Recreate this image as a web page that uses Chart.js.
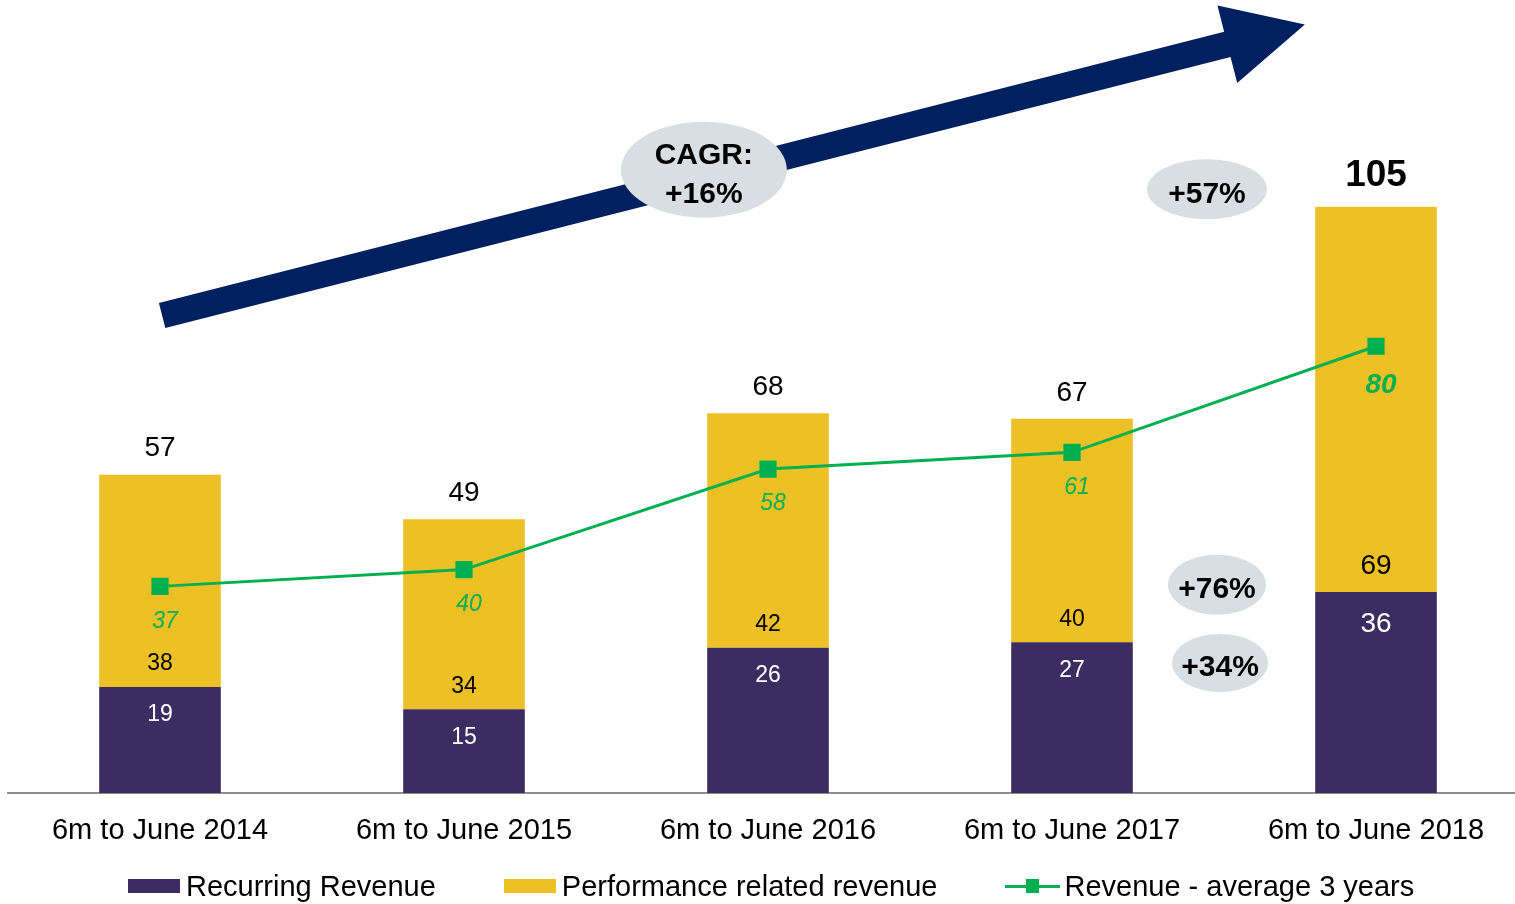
<!DOCTYPE html>
<html>
<head>
<meta charset="utf-8">
<script src="https://cdn.jsdelivr.net/npm/chart.js@4.4.1/dist/chart.umd.min.js"></script>
<style>
  html, body { margin: 0; padding: 0; overflow: hidden; background: #fff; }
  #wrap { position: relative; width: 1515px; height: 904px; overflow: hidden; }
  #legend { position: absolute; left: 128px; top: 868px; height: 36px; display: flex; align-items: center;
            font: 29px "Liberation Sans", Arial, sans-serif; color: #000; white-space: nowrap; }
  .item { display: flex; align-items: center; margin-right: 68px; }
  .box { width: 52px; height: 14px; margin-right: 6px; }
  .lineKey { position: relative; width: 55px; height: 3px; margin-right: 4px; }
  .lineKey span { position: absolute; left: 21px; top: -6px; width: 13px; height: 14px; }
</style>
</head>
<body>
<div id="wrap">
  <canvas id="grafica" width="1528" height="904"></canvas>
  <div id="legend"></div>
</div>
<script>
const FONT = '"Liberation Sans", Arial, sans-serif';

const periods = ['6m to June 2014', '6m to June 2015', '6m to June 2016', '6m to June 2017', '6m to June 2018'];
const recurring = [19, 15, 26, 27, 36];
const performance = [38, 34, 42, 40, 69];
const totals = [57, 49, 68, 67, 105];
const average3y = [37, 40, 58, 61, 80];
const seriesNames = ['Recurring Revenue', 'Performance related revenue', 'Revenue - average 3 years'];
const bubbleTexts = [['CAGR:', '+16%'], ['+57%'], ['+76%'], ['+34%']];

const colores = { recurring: '#3b2d62', performance: '#edc125', average: '#00b050', arrow: '#00205f', bubble: '#d9dee3' };

// annotation anchors, in data units (x = category index, y = value)
const arrowFrom = { x: 0.007, y: 85.5 };
const arrowTo = { x: 3.766, y: 137.6 };
const bubbleAnchors = [
  { x: 1.789, y: 111.6, rx: 83, ry: 48 },
  { x: 3.444, y: 108.1, rx: 60, ry: 30 },
  { x: 3.477, y: 37.3, rx: 49, ry: 30 },
  { x: 3.487, y: 23.3, rx: 48, ry: 29 }
];

const annotaciones = {
  id: 'annotaciones',
  afterDatasetsDraw(chart) {
    const ctx = chart.ctx;
    const xs = chart.scales.x, ys = chart.scales.y;
    const px = (v) => xs.getPixelForValue(0) + v * (xs.getPixelForValue(1) - xs.getPixelForValue(0));
    ctx.save();
    // arrow
    const sx = px(arrowFrom.x), sy = ys.getPixelForValue(arrowFrom.y);
    const tx = px(arrowTo.x), ty = ys.getPixelForValue(arrowTo.y);
    const ang = Math.atan2(ty - sy, tx - sx);
    const len = Math.hypot(tx - sx, ty - sy);
    ctx.translate(sx, sy);
    ctx.rotate(ang);
    ctx.fillStyle = colores.arrow;
    ctx.beginPath();
    ctx.moveTo(0, -13);
    ctx.lineTo(len - 80, -13);
    ctx.lineTo(len - 80, -40);
    ctx.lineTo(len, 0);
    ctx.lineTo(len - 80, 40);
    ctx.lineTo(len - 80, 13);
    ctx.lineTo(0, 13);
    ctx.closePath();
    ctx.fill();
    ctx.setTransform(1, 0, 0, 1, 0, 0);
    // bubbles
    ctx.textAlign = 'center';
    ctx.textBaseline = 'middle';
    ctx.font = 'bold 30px ' + FONT;
    bubbleAnchors.forEach((b, i) => {
      const cx = px(b.x), cy = ys.getPixelForValue(b.y);
      ctx.fillStyle = colores.bubble;
      ctx.beginPath();
      ctx.ellipse(cx, cy, b.rx, b.ry, 0, 0, Math.PI * 2);
      ctx.fill();
      ctx.fillStyle = '#000';
      const lines = bubbleTexts[i];
      const start = cy + 5 - (lines.length - 1) * 39 / 2;
      lines.forEach((t, j) => ctx.fillText(t, cx, start + j * 39));
    });
    ctx.restore();
  }
};

const etiquetas = {
  id: 'etiquetas',
  afterDatasetsDraw(chart) {
    const ctx = chart.ctx;
    const last = periods.length - 1;
    const rec = chart.getDatasetMeta(0).data;
    const perf = chart.getDatasetMeta(1).data;
    const avg = chart.getDatasetMeta(2).data;
    ctx.save();
    ctx.textAlign = 'center';
    ctx.textBaseline = 'middle';
    rec.forEach((el, i) => {
      const big = i === last;
      ctx.fillStyle = '#fff';
      ctx.font = (big ? 28 : 23) + 'px ' + FONT;
      ctx.fillText(recurring[i], el.x, el.y + (big ? 32 : 28));
    });
    perf.forEach((el, i) => {
      const big = i === last;
      ctx.fillStyle = '#000';
      ctx.font = (big ? 28 : 23) + 'px ' + FONT;
      ctx.fillText(performance[i], el.x, el.base - (big ? 26 : 23));
      ctx.font = big ? 'bold 37px ' + FONT : '28px ' + FONT;
      ctx.fillText(totals[i], el.x, el.y - (big ? 31 : 26));
    });
    avg.forEach((el, i) => {
      const big = i === last;
      ctx.fillStyle = colores.average;
      ctx.font = big ? 'italic bold 28px ' + FONT : 'italic 23px ' + FONT;
      ctx.fillText(average3y[i], el.x + 5, el.y + (big ? 39 : 35));
    });
    ctx.restore();
  }
};

new Chart(document.getElementById('grafica').getContext('2d'), {
  type: 'bar',
  data: {
    labels: periods,
    datasets: [
      { label: seriesNames[0], data: recurring, backgroundColor: colores.recurring, stack: 's', order: 1,
        barPercentage: 0.4, categoryPercentage: 1 },
      { label: seriesNames[1], data: performance, backgroundColor: colores.performance, stack: 's', order: 1,
        barPercentage: 0.4, categoryPercentage: 1 },
      { type: 'line', label: seriesNames[2], data: average3y, borderColor: colores.average, borderWidth: 3,
        backgroundColor: colores.average, pointStyle: 'rect', pointRadius: 10, pointHoverRadius: 10,
        fill: false, tension: 0, order: 0 }
    ]
  },
  options: {
    responsive: false,
    animation: false,
    layout: { autoPadding: false, padding: { left: 8, right: 0, top: 0, bottom: 0 } },
    plugins: { legend: { display: false }, tooltip: { enabled: false } },
    scales: {
      x: {
        stacked: true,
        grid: { display: false, drawTicks: false },
        border: { display: true, color: '#8c8c8c', width: 2 },
        ticks: { color: '#000', font: { family: FONT, size: 29 }, padding: 21, maxRotation: 0 },
        afterFit: (scale) => { scale.height = 111; }
      },
      y: { stacked: true, display: false, min: 0, max: 142 }
    }
  },
  plugins: [annotaciones, etiquetas]
});

// legend
const legend = document.getElementById('legend');
[colores.recurring, colores.performance].forEach((c, i) => {
  const item = document.createElement('div');
  item.className = 'item';
  item.innerHTML = '<div class="box" style="background:' + c + '"></div><span>' + seriesNames[i] + '</span>';
  legend.appendChild(item);
});
const lineItem = document.createElement('div');
lineItem.className = 'item';
lineItem.innerHTML = '<div class="lineKey" style="background:' + colores.average + '"><span style="background:' +
  colores.average + '"></span></div><span>' + seriesNames[2] + '</span>';
legend.appendChild(lineItem);
</script>
</body>
</html>
